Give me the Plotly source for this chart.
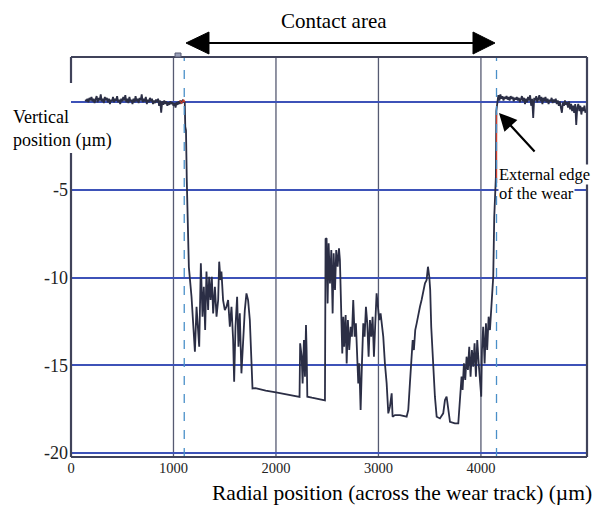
import plotly.graph_objects as go

# ---------------- data ----------------
left_flat_x = [140,150,160,170,180,190,200,210,220,230,240,250,260,270,280,290,300,310,320,330,
               340,350,360,370,380,390,400,410,420,430,440,450,460,470,480,490,500,510,520,530,
               540,550,560,570,580,590,600,610,620,630,640,650,660,670,680,690,700,710,720,730,
               740,750,760,770,780,790,800,810,820,830,840,850,860,870,880,890,900,910,920,930,
               940,950,960,970,980,990,1000,1010,1020,1030,1040,1050,1060,1070,1080,1090,1100]
left_flat_y = [0.15,0.05,0.2,0.0,0.25,0.1,0.3,0.05,0.2,-0.05,0.15,0.35,0.0,0.25,0.1,0.45,0.05,0.2,-0.05,0.3,
               0.1,0.25,0.0,0.2,-0.1,0.15,0.05,0.3,0.0,0.2,0.1,0.35,0.0,0.15,-0.1,0.2,0.05,0.3,0.1,0.4,
               0.0,0.2,-0.05,0.3,0.05,0.15,-0.1,0.2,0.0,0.35,0.05,0.2,-0.05,0.25,0.1,0.45,0.0,0.2,0.05,0.3,
               -0.1,0.15,0.0,0.25,0.05,0.2,-0.1,0.1,-0.05,0.15,0.0,0.2,-0.2,0.1,-0.6,0.05,-0.15,0.1,-0.1,0.05,
               -0.2,0.0,-0.15,0.05,-0.1,0.0,-0.2,-0.05,-0.3,0.0,-0.15,0.05,-0.1,0.1,-0.05,0.1,0.05]

wear_x = [1110,1115,1122,1130,1140,1150,1176,1192,1209,1225,1241,1251,1267,1283,1296,1309,1322,1338,1348,1362,
          1374,1387,1404,1420,1436,1446,1459,1468,1484,1501,1517,1533,1550,1566,1582,1592,1605,1621,1634,1647,
          1663,1680,1696,1712,1728,1745,1761,1771,1800,1900,2000,2100,2230,2236,2251,2260,2273,2283,2293,2299,
          2306,2350,2400,2478,2484,2494,2504,2514,2527,2540,2553,2563,2576,2588,2602,2615,2624,2634,2647,2657,
          2666,2680,2690,2702,2715,2729,2741,2754,2768,2780,2790,2803,2813,2826,2839,2852,2865,2878,2891,2904,
          2917,2930,2943,2956,2969,2982,2995,3008,3021,3034,3047,3063,3080,3096,3112,3129,3138,3161,3210,3275,
          3291,3307,3320,3334,3346,3359,3373,3388,3405,3421,3437,3454,3470,3483,3496,3505,3515,3529,3541,3551,
          3568,3600,3632,3649,3665,3681,3698,3746,3779,3795,3811,3821,3834,3847,3860,3873,3886,3899,3912,3925,
          3938,3951,3964,3978,3990,4003,4010,4022,4036,4049,4061,4075,4088,4100,4110,4120,4130,4139,4146,4150]
wear_y = [0.0,-1.4,-1.6,-4.5,-7.5,-9.4,-11.09,-12.8,-14.22,-11.66,-13.18,-13.94,-9.18,-12.23,-10.52,-12.99,-9.66,-11.85,-9.95,-11.28,
          -9.95,-12.04,-10.52,-12.23,-11.28,-9.09,-10.14,-9.66,-11.28,-11.85,-11.66,-11.28,-12.8,-11.66,-13.56,-15.94,-12.8,-11.09,-13.94,-12.04,
          -15.46,-13.56,-11.85,-10.9,-11.28,-12.42,-14.32,-16.32,-16.3,-16.45,-16.55,-16.65,-16.8,-13.75,-14.51,-16.03,-13.56,-15.65,-12.7,-14.13,
          -16.79,-16.85,-16.9,-17.0,-7.8,-7.76,-11.47,-8.04,-10.33,-8.43,-12.04,-8.61,-10.71,-8.43,-9.38,-8.33,-9.0,-11.28,-14.32,-12.23,
          -13.94,-12.13,-14.89,-12.42,-14.13,-12.8,-13.37,-11.28,-13.37,-12.61,-14.51,-16.03,-14.89,-17.55,-14.89,-12.61,-13.37,-11.66,-12.61,-14.51,
          -12.42,-13.37,-12.23,-14.51,-12.61,-10.9,-11.66,-12.42,-12.04,-12.8,-13.37,-14.89,-16.03,-17.74,-17.36,-16.6,-17.93,-17.84,-17.84,-17.93,
          -17.55,-16.03,-14.89,-13.56,-14.13,-12.99,-12.61,-12.04,-11.66,-11.28,-10.71,-10.33,-10.14,-9.38,-9.95,-10.71,-12.8,-14.51,-16.03,-16.79,
          -17.93,-18.03,-17.74,-16.98,-16.79,-17.36,-18.22,-18.31,-18.31,-16.98,-15.65,-16.41,-14.89,-15.84,-14.51,-15.27,-13.94,-15.65,-14.13,-15.08,
          -13.75,-15.65,-13.56,-14.89,-16.03,-16.79,-14.13,-12.8,-14.89,-12.61,-14.13,-12.23,-12.99,-11.85,-10.33,-9.95,-6.53,-4.62,-4.24,-0.5]

right_flat_x = [4160,4170,4180,4190,4200,4210,4220,4230,4240,4250,4260,4270,4280,4290,4300,4310,4320,4330,4340,4350,
                4360,4370,4380,4390,4400,4410,4420,4430,4440,4450,4460,4470,4480,4490,4500,4510,4520,4530,4540,4550,
                4560,4570,4580,4590,4600,4610,4620,4630,4640,4650,4660,4670,4680,4690,4700,4710,4720,4730,4740,4750,
                4760,4770,4780,4790,4800,4810,4820,4830,4840,4850,4860,4870,4880,4890,4900,4910,4920,4930,4940,4950,
                4960,4970,4980,4990,5000,5010,5020]
right_flat_y = [0.0,0.4,0.1,0.45,0.2,0.35,0.1,0.3,0.2,0.35,0.15,0.3,0.1,0.35,0.2,0.3,0.05,0.25,0.15,0.3,
                0.1,0.25,0.0,0.2,0.35,0.05,0.25,-0.1,0.2,0.0,0.3,0.1,0.4,-0.2,0.2,-0.9,0.25,0.1,0.35,0.0,
                0.2,0.4,0.05,0.3,-0.1,0.25,0.05,0.3,0.0,0.2,-0.1,0.15,0.05,0.25,-0.05,0.15,0.0,0.2,-0.1,0.1,
                -0.2,0.05,-0.3,-0.6,0.0,-0.2,0.1,-0.15,0.0,-0.3,0.05,-0.4,-0.1,-0.5,-0.2,-0.6,-0.1,-1.3,-0.3,-0.1,
                -0.5,-0.2,-0.7,-0.3,-0.5,-0.2,-0.6]

red_left_x = [1060, 1080, 1100, 1110]
red_left_y = [0.1, -0.05, 0.15, 0.0]
red_right_x = [4153, 4153]
red_right_y = [-4.6, -0.6]

edge_lines_x = [1105, 4152]          # dashed wear-edge markers
x_tick_vals = [0, 1000, 2000, 3000, 4000]
x_tick_text = ["0", "1000", "2000", "3000", "4000"]
y_tick_vals = [0, -5, -10, -15, -20]
y_tick_text = ["", "-5", "-10", "-15", "-20"]

SERIF = "Liberation Serif, Times New Roman, serif"
LINE = "#2b2e45"
FRAME = "#40435a"
HGRID = "#3d52b8"
VGRID = "#565a72"

prof_x = left_flat_x + wear_x + right_flat_x
prof_y = left_flat_y + wear_y + right_flat_y

fig = go.Figure()
fig.add_trace(go.Scatter(x=prof_x, y=prof_y, mode="lines",
                         line=dict(color=LINE, width=1.8), hoverinfo="skip", showlegend=False))
fig.add_trace(go.Scatter(x=red_left_x, y=red_left_y, mode="lines",
                         line=dict(color="#c0392b", width=1.2), showlegend=False))
fig.add_trace(go.Scatter(x=red_right_x, y=red_right_y, mode="lines",
                         line=dict(color="#d04030", width=1.2), showlegend=False))

shapes = []
# vertical grid lines
for xv in x_tick_vals[1:]:
    shapes.append(dict(type="line", xref="x", yref="paper", x0=xv, x1=xv, y0=0, y1=1,
                       line=dict(color=VGRID, width=1.3), layer="below"))
# dashed wear-edge lines
for xv in edge_lines_x:
    shapes.append(dict(type="line", xref="x", yref="paper", x0=xv, x1=xv, y0=0, y1=1,
                       line=dict(color="#4a8fc8", width=1.3, dash="dash"), layer="above"))
# frame (left side with a gap for the label)
frame_segs = [((0, 1), (1, 1)), ((1, 1), (1, 0)), ((0, 0), (1, 0)),
              ((0, 0), (0, 0.76)), ((0, 0.935), (0, 1))]
for (a, b) in frame_segs:
    shapes.append(dict(type="line", xref="paper", yref="paper", x0=a[0], y0=a[1], x1=b[0], y1=b[1],
                       line=dict(color=FRAME, width=2.2), layer="above"))
# small tab on top of frame
shapes.append(dict(type="rect", xref="paper", yref="paper", x0=0.2016, x1=0.2132, y0=1.0, y1=1.01,
                   line=dict(color=VGRID, width=1), fillcolor="#9aa0b8", layer="above"))
# contact-area double arrow
shapes.append(dict(type="line", xref="paper", yref="paper", x0=0.26, x1=0.785, y0=1.035, y1=1.035,
                   line=dict(color="black", width=2)))
shapes.append(dict(type="path", xref="paper", yref="paper",
                   path="M 0.2229 1.035 L 0.2674 1.0625 L 0.2674 1.0075 Z",
                   fillcolor="black", line=dict(color="black", width=1)))
shapes.append(dict(type="path", xref="paper", yref="paper",
                   path="M 0.8217 1.035 L 0.7791 1.0625 L 0.7791 1.0075 Z",
                   fillcolor="black", line=dict(color="black", width=1)))

annotations = [
    dict(text="Contact area", xref="paper", yref="paper", x=0.51, y=1.09, showarrow=False,
         xanchor="center", yanchor="middle", font=dict(family=SERIF, size=21, color="black")),
    dict(text="Vertical<br>position (µm)", xref="paper", yref="paper", x=-0.116, y=0.82,
         showarrow=False, xanchor="left", yanchor="middle", align="left",
         font=dict(family=SERIF, size=18, color="black")),
    dict(text="External edge", xref="paper", yref="paper", x=0.8275, y=0.706,
         showarrow=False, xanchor="left", yanchor="middle", align="left", bgcolor="white",
         borderpad=0, font=dict(family=SERIF, size=16.5, color="black")),
    dict(text="of the wear", xref="paper", yref="paper", x=0.8275, y=0.66,
         showarrow=False, xanchor="left", yanchor="middle", align="left", bgcolor="white",
         borderpad=0, font=dict(family=SERIF, size=16.5, color="black")),
    dict(text="", xref="x", yref="y", x=4176, y=-0.61, ax=37, ay=40, showarrow=True,
         arrowhead=2, arrowsize=1.6, arrowwidth=2.2, arrowcolor="black"),
    dict(text="Radial position (across the wear track) (µm)", xref="paper", yref="paper",
         x=1.014, y=-0.09, showarrow=False, xanchor="right", yanchor="middle",
         font=dict(family=SERIF, size=21.5, color="black")),
]

# the page adds an 8px body margin, so the figure is 8px smaller and shifted
fig.update_layout(
    width=594, height=497,
    margin=dict(l=63, r=15, t=49, b=48),
    paper_bgcolor="white", plot_bgcolor="white",
    shapes=shapes, annotations=annotations,
    xaxis=dict(range=[0, 5035], tickvals=x_tick_vals, ticktext=x_tick_text, showgrid=False,
               zeroline=False, showline=False, ticks="",
               tickfont=dict(family=SERIF, size=14.5, color="#222")),
    yaxis=dict(range=[-20.23, 2.58], tickvals=y_tick_vals, ticktext=y_tick_text, showgrid=True,
               gridcolor=HGRID, gridwidth=1.5, zeroline=False, showline=False, ticks="",
               ticklabelstandoff=2,
               tickfont=dict(family=SERIF, size=18, color="#222")),
)

fig.write_html("out.html")
